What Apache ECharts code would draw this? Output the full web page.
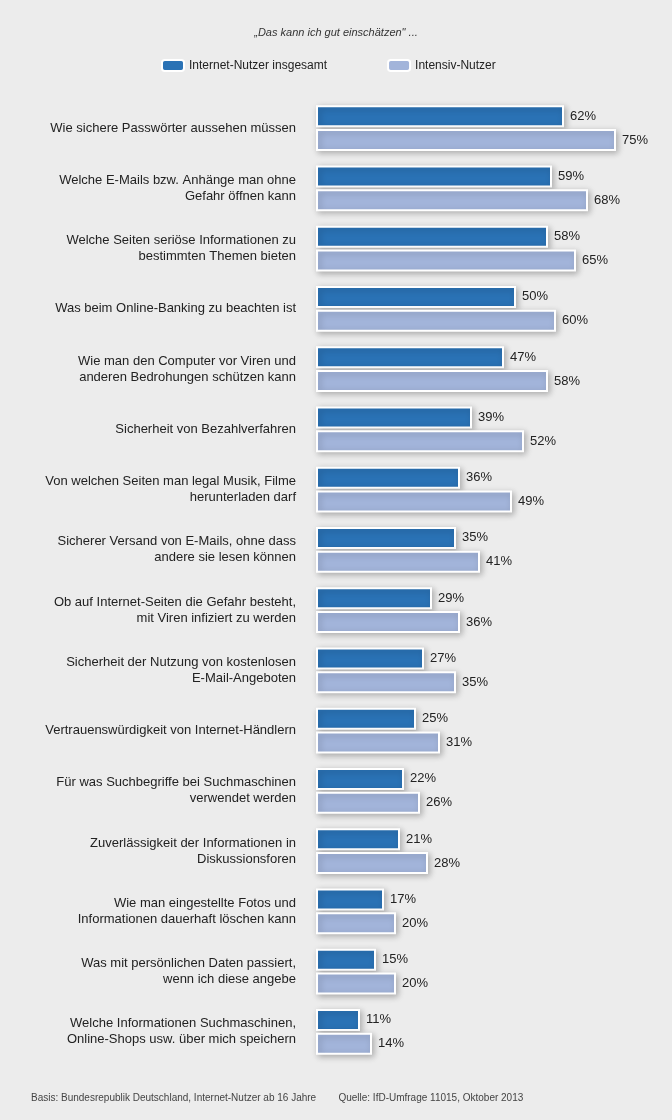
<!DOCTYPE html><html><head><meta charset="utf-8"><script src="https://cdn.jsdelivr.net/npm/echarts@6/dist/echarts.min.js"></script>
<style>html,body{margin:0;background:#ececec}#c{width:672px;height:1120px}</style></head><body><div id="c"></div><script>
const categories=["Wie sichere Passwörter aussehen müssen","Welche E-Mails bzw. Anhänge man ohne\nGefahr öffnen kann","Welche Seiten seriöse Informationen zu\nbestimmten Themen bieten","Was beim Online-Banking zu beachten ist","Wie man den Computer vor Viren und\nanderen Bedrohungen schützen kann","Sicherheit von Bezahlverfahren","Von welchen Seiten man legal Musik, Filme\nherunterladen darf","Sicherer Versand von E-Mails, ohne dass\nandere sie lesen können","Ob auf Internet-Seiten die Gefahr besteht,\nmit Viren infiziert zu werden","Sicherheit der Nutzung von kostenlosen\nE-Mail-Angeboten","Vertrauenswürdigkeit von Internet-Händlern","Für was Suchbegriffe bei Suchmaschinen\nverwendet werden","Zuverlässigkeit der Informationen in\nDiskussionsforen","Wie man eingestellte Fotos und\nInformationen dauerhaft löschen kann","Was mit persönlichen Daten passiert,\nwenn ich diese angebe","Welche Informationen Suchmaschinen,\nOnline-Shops usw. über mich speichern"];
const gesamt=[62,59,58,50,47,39,36,35,29,27,25,22,21,17,15,11];
const intensiv=[75,68,65,60,58,52,49,41,36,35,31,26,28,20,20,14];
const c=echarts.init(document.getElementById('c'));
const bs=col=>({color:col,borderColor:'#fff',borderWidth:2,shadowColor:'rgba(0,0,0,0.25)',shadowBlur:6,shadowOffsetX:2,shadowOffsetY:2});
const lab={show:true,position:'right',distance:6,formatter:'{c}%',color:'#222',fontSize:13,fontFamily:'Arial'};
c.setOption({backgroundColor:'#ececec',animation:false,
title:[{text:'„Das kann ich gut einschätzen" ...',left:'center',top:22,textStyle:{fontSize:11,fontStyle:'italic',fontWeight:'normal',color:'#333',fontFamily:'Arial'}},
{text:'Basis: Bundesrepublik Deutschland, Internet-Nutzer ab 16 Jahre        Quelle: IfD-Umfrage 11015, Oktober 2013',left:26,top:1088,textStyle:{fontSize:10,fontWeight:'normal',color:'#444',fontFamily:'Arial'}}],
legend:{top:54,left:156,itemGap:60,itemWidth:22,itemHeight:11,textStyle:{fontSize:12,color:'#222',fontFamily:'Arial'},data:['Internet-Nutzer insgesamt','Intensiv-Nutzer']},
grid:{left:316,right:16,top:98,bottom:58},
xAxis:{type:'value',min:0,max:85,show:false},
yAxis:{type:'category',inverse:true,data:categories,axisLine:{show:false},axisTick:{show:false},axisLabel:{margin:20,align:'right',fontSize:13,lineHeight:16,color:'#222',fontFamily:'Arial'}},
series:[{name:'Internet-Nutzer insgesamt',type:'bar',data:gesamt,barWidth:22,barGap:'9%',itemStyle:bs('#2a72b5'),label:lab},
{name:'Intensiv-Nutzer',type:'bar',data:intensiv,barWidth:22,itemStyle:bs('#a2b4da'),label:lab}]});
</script></body></html>
